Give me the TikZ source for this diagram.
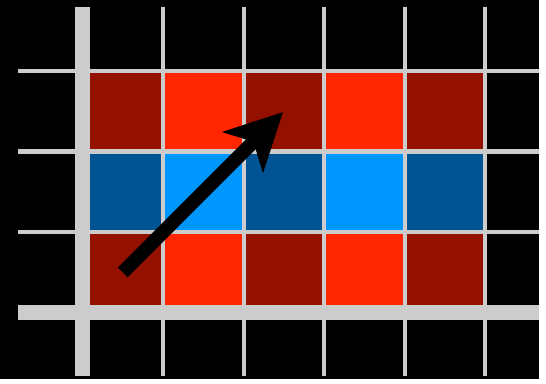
\documentclass[tikz,border=0pt]{standalone}
\usepackage{tikz}
\usetikzlibrary{arrows.meta}

\definecolor{rojoosc}{HTML}{941100}
\definecolor{rojo}{HTML}{FF2600}
\definecolor{azulosc}{HTML}{005493}
\definecolor{azul}{HTML}{0096FF}
\definecolor{gris}{HTML}{CCCCCC}

\begin{document}
\begin{tikzpicture}[
    gridline/.style={gris, line width=0.05cm},
    axisline/.style={gris, line width=0.184cm},
    >={Stealth[length=0.7cm, width=0.7cm, inset=0.18cm]}]
  % fondo negro
  \fill[black] (-1.022,-0.826) rectangle (5.661,3.874);
  % celdas
  \foreach \i/\cr/\cb in {0/rojoosc/azulosc, 1/rojo/azul, 2/rojoosc/azulosc,
                          3/rojo/azul, 4/rojoosc/azulosc} {
    \fill[\cr] (\i,0) rectangle ++(1,1);
    \fill[\cb] (\i,1) rectangle ++(1,1);
    \fill[\cr] (\i,2) rectangle ++(1,1);
  }
  % rejilla
  \foreach \x in {1,...,5}
    \draw[gridline] (\x,-0.789) -- (\x,3.788);
  \foreach \y in {1,2,3}
    \draw[gridline] (-0.802,\y) -- (5.661,\y);
  % ejes
  \draw[axisline] (0,-0.789) -- (0,3.788);
  \draw[axisline] (-0.802,0) -- (5.661,0);
  % vector
  \coordinate (A) at (0.5,0.5);
  \coordinate (B) at (2.49,2.49);
  \draw[->, line width=0.171cm, black] (A) -- (B);
\end{tikzpicture}
\end{document}
